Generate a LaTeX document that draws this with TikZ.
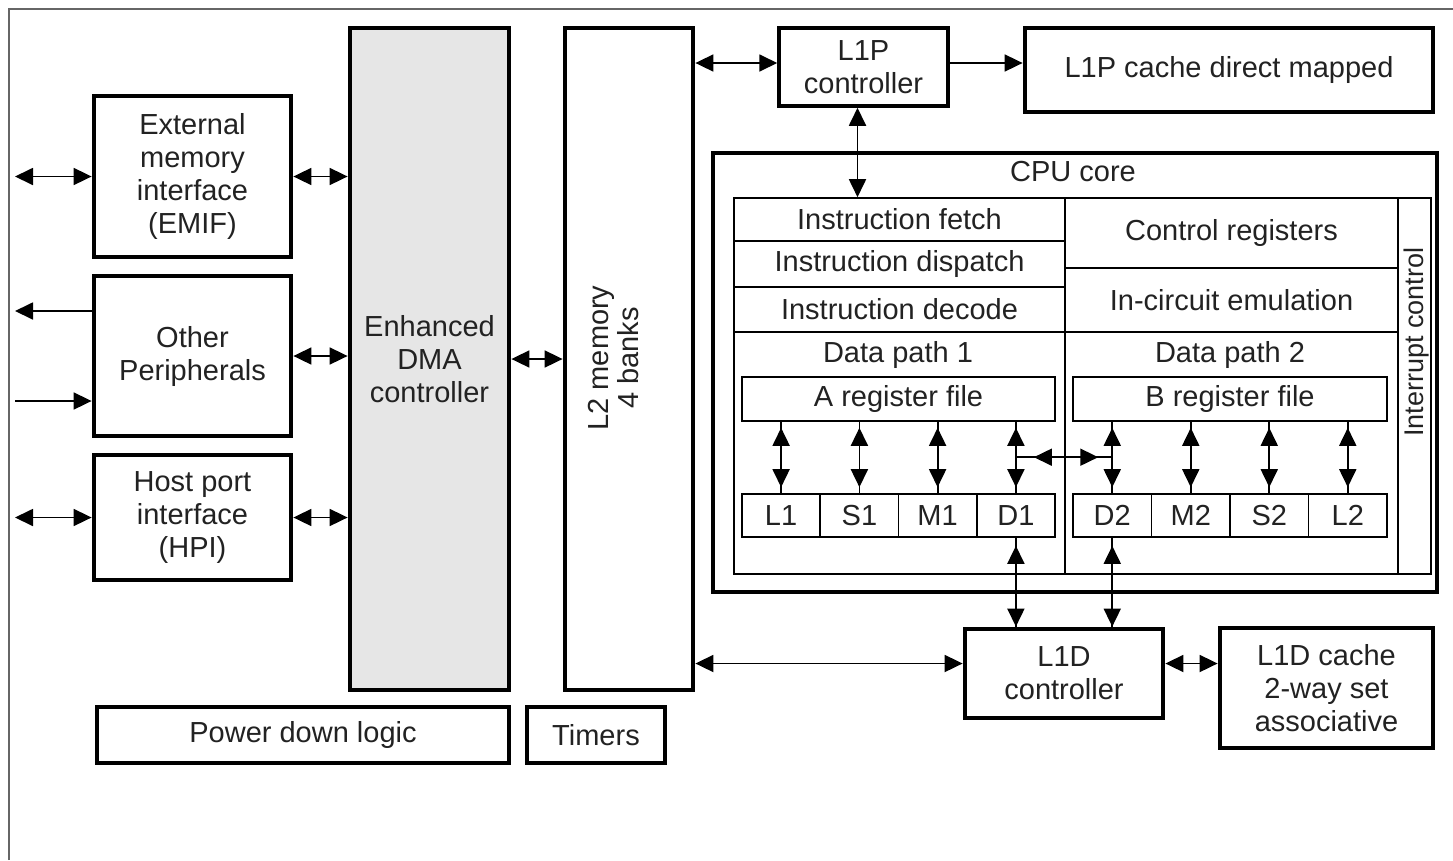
\documentclass[tikz,border=0pt]{standalone}
\usepackage{fontspec}
\setmainfont{Liberation Sans}
\usetikzlibrary{arrows.meta,calc}
\definecolor{txt}{HTML}{222222}
\definecolor{dmafill}{HTML}{E6E6E6}
\begin{document}
\begin{tikzpicture}[x=1pt,y=-1pt,
  every node/.style={font=\fontsize{29}{33}\selectfont, text=txt},
  bigbox/.style={draw=black, line width=4.8pt, inner sep=0pt, align=center},
  midbox/.style={draw=black, line width=3.5pt, inner sep=0pt, align=center},
  cell/.style={draw=black, line width=1.6pt, inner sep=0pt, align=center},
  conn/.style={line width=1.8pt, draw=black},
  >={Triangle[length=18pt,width=17pt]}]
\useasboundingbox (0,0) rectangle (1453,860);
\fill[white] (0,0) rectangle (1453,860);
% outer frame
\draw[line width=2.5pt, draw=black!60] (9,860) -- (9,9) -- (1453,9);
% left boxes
\node[bigbox, minimum width=197pt, minimum height=161pt] (emif) at (192.5,176.5) {External\\memory\\interface\\(EMIF)};
\node[bigbox, minimum width=197pt, minimum height=160pt] (oper) at (192.5,356) {Other\\Peripherals};
\node[bigbox, minimum width=197pt, minimum height=125pt] (hpi) at (192.5,517.5) {Host port\\interface\\(HPI)};
\node[bigbox, fill=dmafill, minimum width=159pt, minimum height=662pt] (edma) at (429.5,359) {Enhanced\\DMA\\controller};
\node[bigbox, minimum width=128pt, minimum height=662pt] (l2) at (629,359) {};
\node[rotate=90, align=center, font=\fontsize{29}{30}\selectfont] (l2t) at (614,358) {L2 memory\\4 banks};
\node[bigbox, minimum width=412pt, minimum height=56pt] (pdl) at (303,735) {Power down logic};
\node[bigbox, minimum width=138pt, minimum height=56pt] (tim) at (596,735) {Timers};
% L1P
\node[midbox, minimum width=169pt, minimum height=78pt] (l1p) at (863.5,67) {L1P\\controller};
\node[bigbox, minimum width=408pt, minimum height=84pt] (l1pc) at (1229,70) {L1P cache direct mapped};
% CPU core
\node[bigbox, minimum width=724pt, minimum height=439pt] (cpu) at (1075,372.5) {};
\node (cput) at (1073,172) {CPU core};
\node[cell, minimum width=331pt, minimum height=43pt] (ifetch) at (899.5,219.5) {Instruction fetch};
\node[cell, minimum width=331pt, minimum height=46pt] (idisp) at (899.5,264) {Instruction dispatch};
\node[cell, minimum width=331pt, minimum height=45pt] (idec) at (899.5,309.5) {Instruction decode};
\node[cell, minimum width=333pt, minimum height=70pt] (creg) at (1231.5,233) {Control registers};
\node[cell, minimum width=333pt, minimum height=64pt] (ice) at (1231.5,300) {In-circuit emulation};
\node[cell, minimum width=331pt, minimum height=242pt] (dp1) at (899.5,453) {};
\node[cell, minimum width=333pt, minimum height=242pt] (dp2) at (1231.5,453) {};
\node[cell, minimum width=33pt, minimum height=376pt] (intc) at (1414.5,386) {};
\node[rotate=90, font=\fontsize{27}{30}\selectfont] (intct) at (1416,342) {Interrupt control};
\node (dp1t) at (898,355) {Data path 1};
\node (dp2t) at (1230,355) {Data path 2};
\node[cell, minimum width=313pt, minimum height=44pt] (ra) at (898.5,399) {A register file};
\node[cell, minimum width=314pt, minimum height=44pt] (rb) at (1230,399) {B register file};
\node[cell, minimum width=78.25pt, minimum height=43pt] (ul1) at (781.1,515.5) {L1};
\node[cell, minimum width=78.25pt, minimum height=43pt] (us1) at (859.4,515.5) {S1};
\node[cell, minimum width=78.25pt, minimum height=43pt] (um1) at (937.6,515.5) {M1};
\node[cell, minimum width=78.25pt, minimum height=43pt] (ud1) at (1015.9,515.5) {D1};
\node[cell, minimum width=78.5pt, minimum height=43pt] (ud2) at (1112.25,515.5) {D2};
\node[cell, minimum width=78.5pt, minimum height=43pt] (um2) at (1190.75,515.5) {M2};
\node[cell, minimum width=78.5pt, minimum height=43pt] (us2) at (1269.25,515.5) {S2};
\node[cell, minimum width=78.5pt, minimum height=43pt] (ul2) at (1347.75,515.5) {L2};
% L1D
\node[bigbox, minimum width=198pt, minimum height=89pt] (l1d) at (1064,673.5) {L1D\\controller};
\node[bigbox, minimum width=213pt, minimum height=120pt] (l1dc) at (1326.5,688) {L1D cache\\2-way set\\associative};
% connectors
\coordinate (xl) at (15,0);
\draw[conn,<->] (emif.west) -- (emif.west -| xl);
\coordinate (opo) at ([yshift=45pt]oper.west);
\coordinate (opi) at ([yshift=-45pt]oper.west);
\draw[conn,->] (opo) -- (opo -| xl);
\draw[conn,->] (opi -| xl) -- (opi);
\draw[conn,<->] (hpi.west) -- (hpi.west -| xl);
\draw[conn,<->] (emif.east) -- (emif.east -| edma.west);
\draw[conn,<->] (oper.east) -- (oper.east -| edma.west);
\draw[conn,<->] (hpi.east) -- (hpi.east -| edma.west);
\draw[conn,<->] (edma.east) -- (edma.east -| l2.west);
\coordinate (lpw) at ([yshift=4pt]l1p.west);
\draw[conn,<->] (lpw) -- (lpw -| l2.east);
\coordinate (lpe) at ([yshift=4pt]l1p.east);
\draw[conn,->] (lpe) -- (lpe -| l1pc.west);
\coordinate (pf) at ([xshift=-6pt]l1p.south);
\draw[conn,<->] (pf) -- (pf |- ifetch.north);
\foreach \u/\r in {ul1/ra, us1/ra, um1/ra, ud1/ra, ud2/rb, um2/rb, us2/rb, ul2/rb}{
  \draw[conn] (\u.north) -- (\u.north |- \r.south);
  \draw[conn,<->,shorten <=6pt,shorten >=6pt] (\u.north) -- (\u.north |- \r.south);
}
\coordinate (x1) at ([yshift=36pt]ud1.north);
\draw[conn] (x1) -- (x1 -| ud2.north);
\draw[conn,<->,shorten <=18pt,shorten >=14pt] (x1) -- (x1 -| ud2.north);
\draw[conn] (ud1.south) -- (ud1.south |- l1d.north);
\draw[conn,<->,shorten <=8pt] (ud1.south) -- (ud1.south |- l1d.north);
\draw[conn] (ud2.south) -- (ud2.south |- l1d.north);
\draw[conn,<->,shorten <=8pt] (ud2.south) -- (ud2.south |- l1d.north);
\coordinate (ldw) at ([yshift=10pt]l1d.west);
\draw[conn,<->] (ldw) -- (ldw -| l2.east);
\coordinate (lde) at ([yshift=10pt]l1d.east);
\draw[conn,<->] (lde) -- (lde -| l1dc.west);
\end{tikzpicture}
\end{document}
